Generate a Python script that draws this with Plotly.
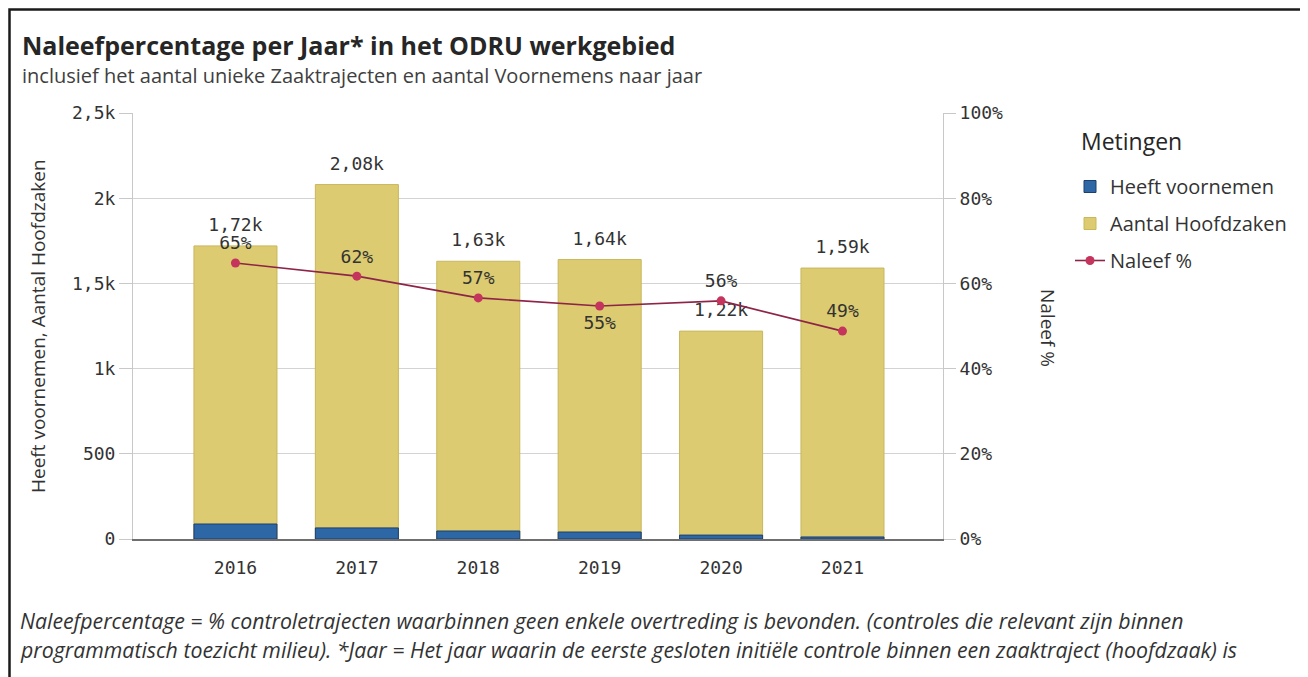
import plotly.graph_objects as go

years = ["2016", "2017", "2018", "2019", "2020", "2021"]
hoofdzaken = [1720, 2080, 1630, 1640, 1220, 1590]
voornemen = [88, 65, 47, 41, 23, 12]
naleef = [64.8, 61.7, 56.6, 54.7, 55.9, 48.8]
naleef_pos = ["top center", "top center", "top center", "bottom center", "top center", "top center"]
pct_ticks = [0, 20, 40, 60, 80, 100]
count_ticks = [0, 500, 1000, 1500, 2000, 2500]

# page offset: plotly div sits 8px inside the browser window
OFF = 8
W, H = 1308 - OFF, 677 - OFF
L, R, T, B = 133, 943, 113, 539  # plot area in window pixels
def px(x):
    return (x - L) / (R - L)
def py(y):
    return (B - y) / (B - T)

MONO = "DejaVu Sans Mono"
SANS = "Open Sans"
TXT = "#333333"

fig = go.Figure()
fig.add_trace(go.Bar(
    x=years, y=hoofdzaken, name="Aantal Hoofdzaken", legendgroup="b",
    marker=dict(color="#dccb70", line=dict(color="#c9b75c", width=1)),
    width=0.684, legendrank=2,
))
fig.add_trace(go.Bar(
    x=years, y=voornemen, name="Heeft voornemen", legendgroup="a",
    marker=dict(color="#2e67a6", line=dict(color="#1c3f6e", width=1)),
    width=0.684, legendrank=1,
))
# bar total labels
fig.add_trace(go.Scatter(
    x=years, y=hoofdzaken, mode="markers+text", showlegend=False, hoverinfo="skip",
    marker=dict(size=15, opacity=0),
    texttemplate="%{y:.3s}", textposition="top center",
    textfont=dict(family=MONO, size=18, color=TXT), cliponaxis=False,
))
fig.add_trace(go.Scatter(
    x=years, y=naleef, name="Naleef %", yaxis="y2", legendgroup="c",
    mode="lines+markers",
    line=dict(color="#8e2447", width=1.6),
    marker=dict(color="#c4345c", size=9),
    cliponaxis=False, legendrank=3,
))
# percentage labels
fig.add_trace(go.Scatter(
    x=years, y=naleef, yaxis="y2", mode="markers+text", showlegend=False, hoverinfo="skip",
    marker=dict(size=13, opacity=0),
    text=[f"{v:.0f}%" for v in naleef], textposition=naleef_pos,
    textfont=dict(family=MONO, size=18, color=TXT), cliponaxis=False,
))

fig.update_layout(
    width=W, height=H,
    margin=dict(l=L - OFF, r=1308 - R, t=T - OFF, b=677 - B),
    paper_bgcolor="white", plot_bgcolor="white",
    barmode="overlay",
    separators=",.",
    showlegend=True,
    legend=dict(
        x=px(1070), y=py(167), xanchor="left", yanchor="top",
        font=dict(family=SANS, size=20, color=TXT),
        traceorder="grouped", tracegroupgap=8,
        itemwidth=30,
    ),
    xaxis=dict(
        type="category", range=[-0.844, 5.828],
        showgrid=False, showline=True, linecolor="#6f6f6f", linewidth=1.5,
        ticks="", tickfont=dict(family=MONO, size=18, color=TXT),
        ticklabelstandoff=12,
    ),
    yaxis=dict(
        range=[0, 2500], tickvals=count_ticks,
        tickformat="~s", showgrid=True, gridcolor="#d3d3d3", gridwidth=1,
        ticks="outside", ticklen=13, tickcolor="#c8c8c8",
        showline=True, linecolor="#c8c8c8", zeroline=False,
        tickfont=dict(family=MONO, size=18, color=TXT),
    ),
    yaxis2=dict(
        range=[0, 100], tickvals=pct_ticks, ticktext=[f"{v}%" for v in pct_ticks],
        overlaying="y", side="right", showgrid=False,
        ticks="outside", ticklen=12, tickcolor="#c8c8c8",
        showline=True, linecolor="#c8c8c8", zeroline=False,
        tickfont=dict(family=MONO, size=18, color=TXT),
    ),
)

ann = [
    dict(text="<b>Naleefpercentage per Jaar* in het ODRU werkgebied</b>", x=px(20), y=py(45),
         font=dict(family=SANS, size=25, color="#262626")),
    dict(text="inclusief het aantal unieke Zaaktrajecten en aantal Voornemens naar jaar", x=px(20), y=py(76),
         font=dict(family=SANS, size=20, color="#404040")),
    dict(text="<i>Naleefpercentage = % controletrajecten waarbinnen geen enkele overtreding is bevonden. (controles die relevant zijn binnen</i>",
         x=px(18), y=py(620), font=dict(family=SANS, size=21.3, color="#333333")),
    dict(text="<i>programmatisch toezicht milieu). *Jaar = Het jaar waarin de eerste gesloten initiële controle binnen een zaaktraject (hoofdzaak) is</i>",
         x=px(18), y=py(649), font=dict(family=SANS, size=21.3, color="#333333")),
    dict(text="Metingen", x=px(1079), y=py(141),
         font=dict(family=SANS, size=23, color="#262626")),
]
for a in ann:
    fig.add_annotation(xref="paper", yref="paper", xanchor="left", yanchor="middle",
                       showarrow=False, **a)

fig.add_annotation(text="Heeft voornemen, Aantal Hoofdzaken", xref="paper", yref="paper",
                   x=px(38), y=py(326), textangle=-90, showarrow=False,
                   xanchor="center", yanchor="middle",
                   font=dict(family=SANS, size=19, color=TXT))
fig.add_annotation(text="Naleef %", xref="paper", yref="paper",
                   x=px(1048), y=py(328), textangle=90, showarrow=False,
                   xanchor="center", yanchor="middle",
                   font=dict(family=SANS, size=19, color=TXT))

fig.add_shape(type="rect", xref="paper", yref="paper",
              x0=px(9.5), x1=px(1302), y0=py(700), y1=py(9.5),
              line=dict(color="#1a1a1a", width=2.5), fillcolor="rgba(0,0,0,0)", layer="above")

fig.write_html("out.html")
